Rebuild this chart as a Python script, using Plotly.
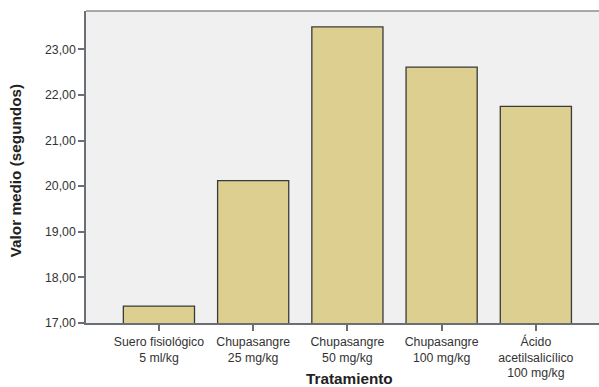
import plotly.graph_objects as go

categories = ["Suero fisiológico<br>5 ml/kg", "Chupasangre<br>25 mg/kg", "Chupasangre<br>50 mg/kg",
              "Chupasangre<br>100 mg/kg", "Ácido<br>acetilsalicílico<br>100 mg/kg"]
values = [17.37, 20.12, 23.49, 22.61, 21.75]
y_ticks = [17, 18, 19, 20, 21, 22, 23]
y_ticklabels = ["17,00", "18,00", "19,00", "20,00", "21,00", "22,00", "23,00"]

fig = go.Figure()
fig.add_trace(go.Bar(
    x=categories, y=values, base=0,
    marker=dict(color="#dccf90", line=dict(color="#3a3a3a", width=1.3)),
    width=0.755,
))

font = dict(family="Liberation Sans, Arial, sans-serif", size=12.3, color="#333333")
fig.update_layout(
    width=599, height=387,
    margin=dict(l=86, r=0, t=11, b=64),
    paper_bgcolor="white", plot_bgcolor="#f0f0f0",
    showlegend=False, font=font,
)
fig.update_xaxes(
    type="category", range=[-0.774, 4.67],
    showline=True, linecolor="#6a6e75", linewidth=1.5,
    ticks="outside", ticklen=6, tickcolor="#6a6e75", tickwidth=1.5,
    showgrid=False, tickfont=font, mirror=False,
)
fig.update_yaxes(
    range=[17, 23.84], tickvals=y_ticks, ticktext=y_ticklabels,
    showline=True, linecolor="#6a6e75", linewidth=1.5,
    ticks="outside", ticklen=6, tickcolor="#6a6e75", tickwidth=1.5,
    showgrid=False, zeroline=False, tickfont=font,
)
fig.add_shape(type="line", xref="paper", yref="paper", x0=0, x1=1, y0=1, y1=1,
              line=dict(color="#8a8e94", width=1.5))
title_font = dict(family="Liberation Sans, Arial, sans-serif", size=15.3, color="#222222")
fig.add_annotation(text="<b>Valor medio (segundos)</b>", xref="paper", yref="paper",
                   x=-0.138, y=0.487, xanchor="center", yanchor="middle", textangle=-90,
                   showarrow=False, font=title_font)
fig.add_annotation(text="<b>Tratamiento</b>", xref="paper", yref="paper",
                   x=0.513, y=-0.178, xanchor="center", yanchor="middle",
                   showarrow=False, font=title_font)

fig.write_html("out.html", config={"displayModeBar": False},
               post_script="document.body.style.margin='0';document.body.style.overflow='hidden';")
